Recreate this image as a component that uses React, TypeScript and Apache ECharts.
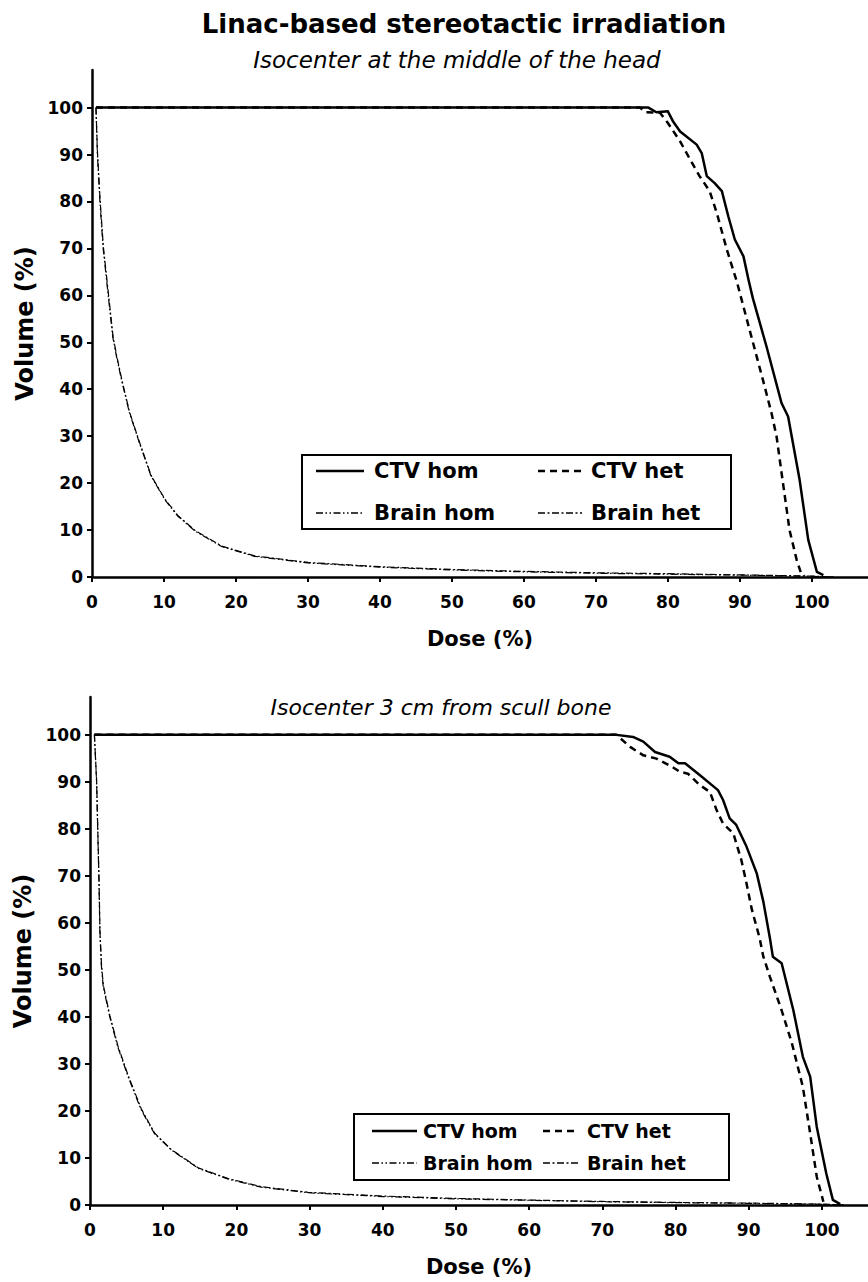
import React, { useEffect, useRef } from "react";
import * as echarts from "echarts";

const FONT = '"DejaVu Sans", sans-serif';

const doseTicks = [0, 10, 20, 30, 40, 50, 60, 70, 80, 90, 100];
const volumeTicks = [0, 10, 20, 30, 40, 50, 60, 70, 80, 90, 100];

const mainTitle = "Linac-based stereotactic irradiation";
const subTitleTop = "Isocenter at the middle of the head";
const subTitleBottom = "Isocenter 3 cm from scull bone";
const seriesNames = ["CTV hom", "CTV het", "Brain hom", "Brain het"];

// Top panel: isocenter at the middle of the head
const topCtvHom: [number, number][] = [
  [0.55, 100], [77.3, 100], [78.4, 99.0], [80.0, 99.2], [80.7, 97.1], [81.7, 94.9],
  [84.0, 92.1], [84.7, 90.3], [85.4, 85.4], [86.5, 83.9], [87.5, 82.2], [88.4, 76.8],
  [89.3, 71.9], [90.5, 68.3], [91.2, 63.3], [91.8, 59.4], [93.7, 49.1], [95.8, 37.0],
  [96.7, 34.2], [98.3, 20.7], [99.5, 7.9], [100.7, 1.1], [101.6, 0.4],
];
const topCtvHet: [number, number][] = [
  [0.55, 100], [76.1, 100], [77.0, 99.0], [78.9, 98.9], [80.0, 96.7], [81.7, 92.8],
  [83.1, 88.9], [84.4, 85.4], [85.8, 82.2], [86.8, 77.5], [88.2, 69.7], [89.6, 62.8],
  [91.6, 51.2], [93.2, 42.0], [94.4, 34.9], [95.1, 29.9], [95.8, 22.1], [96.9, 10.0],
  [97.9, 3.6], [98.5, 0.8], [99.0, 0.3],
];
const topBrainHom: [number, number][] = [
  [0.55, 100], [0.75, 90], [1.1, 80], [1.55, 70], [2.25, 60], [2.9, 51], [3.4, 47],
  [4.1, 42], [5.2, 35], [6.6, 28.5], [8.2, 21.5], [10.1, 16.5], [11.9, 13], [14.3, 9.8],
  [18, 6.5], [22.6, 4.4], [30, 3.0], [40, 2.1], [50, 1.5], [60, 1.1], [70, 0.8],
  [80, 0.6], [90, 0.4], [100, 0.15], [103, 0],
];
const topBrainHet: [number, number][] = [
  [0.55, 100], [0.76, 90.5], [1.12, 80.5], [1.57, 70.5], [2.27, 60.5], [2.92, 51.3], [3.42, 47.2],
  [4.12, 42.2], [5.22, 35.1], [6.62, 28.6], [8.22, 21.6], [10.12, 16.6], [11.92, 13.1], [14.32, 9.9],
  [18, 6.6], [22.6, 4.5], [30, 3.1], [40, 2.2], [50, 1.6], [60, 1.2], [70, 0.9],
  [80, 0.7], [90, 0.45], [100, 0.2], [103, 0],
];

// Bottom panel: isocenter 3 cm from scull bone
const botCtvHom: [number, number][] = [
  [0.6, 100], [71.7, 100], [74.2, 99.5], [75.6, 98.5], [77.2, 96.3], [79.2, 95.3],
  [80.4, 93.9], [81.3, 93.9], [83.3, 91.4], [85.8, 88.2], [86.5, 86.1], [87.4, 82.2],
  [88.3, 80.8], [89.7, 76.2], [91.1, 70.5], [92.0, 64.5], [92.9, 56.7], [93.3, 52.8],
  [94.5, 51.4], [96.1, 41.4], [97.4, 31.5], [98.4, 27.3], [99.3, 16.6], [100.6, 6.7],
  [101.5, 1.1], [102.5, 0.2],
];
const botCtvHet: [number, number][] = [
  [0.6, 100], [71.9, 100], [73.8, 97.4], [75.6, 95.6], [77.4, 94.9], [79.5, 93.2],
  [80.6, 92.1], [81.7, 91.7], [83.3, 89.3], [84.7, 87.8], [85.6, 84.0], [86.5, 81.1],
  [87.9, 79.0], [89.0, 73.3], [89.7, 68.4], [90.4, 63.0], [91.5, 56.7], [92.0, 52.8],
  [92.9, 48.5], [94.5, 41.4], [95.9, 34.4], [97.4, 25.1], [98.4, 15.2], [99.3, 6.0],
  [100.2, 0.7],
];
const botBrainHom: [number, number][] = [
  [0.6, 100], [0.9, 90], [1.05, 80], [1.23, 68.5], [1.35, 58], [1.55, 51], [1.8, 46.5],
  [2.7, 40], [3.8, 33.6], [5.2, 27.3], [7.0, 20.2], [8.8, 15.2], [11.1, 11.7], [14.8, 7.8],
  [18.9, 5.5], [23.4, 3.8], [29.8, 2.6], [40, 1.8], [50, 1.3], [60, 1.0], [70, 0.7],
  [80, 0.5], [90, 0.35], [100, 0.15], [103, 0],
];
const botBrainHet: [number, number][] = [
  [0.6, 100], [0.91, 90], [1.06, 80], [1.24, 68.5], [1.36, 58.2], [1.57, 51.2], [1.82, 46.7],
  [2.72, 40.2], [3.82, 33.8], [5.22, 27.5], [7.02, 20.4], [8.82, 15.3], [11.1, 11.8], [14.8, 7.9],
  [18.9, 5.6], [23.4, 3.9], [29.8, 2.7], [40, 1.9], [50, 1.4], [60, 1.05], [70, 0.75],
  [80, 0.55], [90, 0.4], [100, 0.2], [103, 0],
];

const DASH_CTV_HET = [7, 5];
const DASH_BRAIN_HOM = [7, 2.5, 1.5, 2.5, 1.5, 2.5];
const DASH_BRAIN_HET = [7, 2.5, 2, 2.5];

function lineSeries(name: string, data: [number, number][], idx: number, width: number, dash: any) {
  return {
    type: "line",
    name,
    data,
    xAxisIndex: idx,
    yAxisIndex: idx,
    symbol: "none",
    smooth: false,
    lineStyle: { color: "#000", width, type: dash, join: "round", cap: "butt" },
    z: 3,
  };
}

function xAxisCfg(gridIndex: number, max: number) {
  return {
    type: "value",
    gridIndex,
    min: 0,
    max,
    axisLine: { show: true, onZero: false, lineStyle: { color: "#000", width: 2.5 } },
    axisTick: { show: true, customValues: doseTicks, length: 5, lineStyle: { color: "#000", width: 2 } },
    axisLabel: {
      customValues: doseTicks,
      margin: 16,
      fontSize: 17,
      fontWeight: "bold",
      fontFamily: FONT,
      color: "#000",
    },
    splitLine: { show: false },
    name: "Dose (%)",
    nameLocation: "middle",
    nameGap: 51,
    nameTextStyle: { fontSize: 21, fontWeight: "bold", fontFamily: FONT, color: "#000" },
  };
}

function yAxisCfg(gridIndex: number) {
  return {
    type: "value",
    gridIndex,
    min: 0,
    max: 108,
    axisLine: { show: true, onZero: false, lineStyle: { color: "#000", width: 2.5 } },
    axisTick: { show: true, customValues: volumeTicks, length: 5, lineStyle: { color: "#000", width: 2 } },
    axisLabel: {
      customValues: volumeTicks,
      margin: 9,
      fontSize: 17,
      fontWeight: "bold",
      fontFamily: FONT,
      color: "#000",
    },
    splitLine: { show: false },
    name: "Volume (%)",
    nameLocation: "middle",
    nameGap: 49,
    nameTextStyle: { fontSize: 24, fontWeight: "bold", fontFamily: FONT, color: "#000" },
  };
}

function legendBox(
  box: { x: number; y: number; w: number; h: number },
  rows: number[],
  col1: [number, number, number],
  col2: [number, number, number],
  fontSize: number
) {
  const els: any[] = [
    {
      type: "rect",
      shape: { x: box.x, y: box.y, width: box.w, height: box.h },
      style: { fill: "#fff", stroke: "#000", lineWidth: 2 },
      z: 100,
    },
  ];
  const entries = [
    { name: seriesNames[0], col: col1, row: rows[0], w: 2.5, dash: null },
    { name: seriesNames[1], col: col2, row: rows[0], w: 2.5, dash: DASH_CTV_HET },
    { name: seriesNames[2], col: col1, row: rows[1], w: 1.4, dash: DASH_BRAIN_HOM },
    { name: seriesNames[3], col: col2, row: rows[1], w: 1.4, dash: DASH_BRAIN_HET },
  ];
  entries.forEach((e) => {
    els.push({
      type: "line",
      shape: { x1: e.col[0], y1: e.row, x2: e.col[1], y2: e.row },
      style: { stroke: "#000", lineWidth: e.w, lineDash: e.dash || undefined },
      z: 101,
    });
    els.push({
      type: "text",
      x: e.col[2],
      y: e.row,
      style: {
        text: e.name,
        fontSize,
        fontWeight: "bold",
        fontFamily: FONT,
        fill: "#000",
        verticalAlign: "middle",
        align: "left",
      },
      z: 101,
    });
  });
  return els;
}

export default function App() {
  const ref = useRef<HTMLDivElement>(null);
  useEffect(() => {
    if (!ref.current) return;
    const chart = echarts.init(ref.current, null, { renderer: "svg" });
    const graphic: any[] = [
      {
        type: "text",
        x: 464,
        y: 24,
        style: {
          text: mainTitle,
          fontSize: 26,
          fontWeight: "bold",
          fontFamily: FONT,
          fill: "#000",
          align: "center",
          verticalAlign: "middle",
        },
      },
      {
        type: "text",
        x: 457,
        y: 60,
        style: {
          text: subTitleTop,
          fontSize: 23,
          fontStyle: "italic",
          fontFamily: FONT,
          fill: "#000",
          align: "center",
          verticalAlign: "middle",
        },
      },
      {
        type: "text",
        x: 441,
        y: 707,
        style: {
          text: subTitleBottom,
          fontSize: 22,
          fontStyle: "italic",
          fontFamily: FONT,
          fill: "#000",
          align: "center",
          verticalAlign: "middle",
        },
      },
      ...legendBox({ x: 302, y: 455, w: 429, h: 74 }, [471, 513], [316, 364, 374], [538, 582, 591], 21),
      ...legendBox({ x: 354, y: 1114, w: 375, h: 66 }, [1131, 1163], [372, 417, 423], [543, 578, 587], 19),
    ];
    chart.setOption({
      animation: false,
      backgroundColor: "#fff",
      grid: [
        { left: 92, top: 70, width: 776, height: 507 },
        { left: 90, top: 697, width: 778, height: 508 },
      ],
      xAxis: [xAxisCfg(0, 107.8), xAxisCfg(1, 106.3)],
      yAxis: [yAxisCfg(0), yAxisCfg(1)],
      series: [
        lineSeries(seriesNames[2], topBrainHom, 0, 1.2, DASH_BRAIN_HOM),
        lineSeries(seriesNames[3], topBrainHet, 0, 1.2, DASH_BRAIN_HET),
        lineSeries(seriesNames[1], topCtvHet, 0, 2.5, DASH_CTV_HET),
        lineSeries(seriesNames[0], topCtvHom, 0, 2.5, "solid"),
        lineSeries(seriesNames[2], botBrainHom, 1, 1.2, DASH_BRAIN_HOM),
        lineSeries(seriesNames[3], botBrainHet, 1, 1.2, DASH_BRAIN_HET),
        lineSeries(seriesNames[1], botCtvHet, 1, 2.5, DASH_CTV_HET),
        lineSeries(seriesNames[0], botCtvHom, 1, 2.5, "solid"),
      ],
      graphic,
    });
    return () => chart.dispose();
  }, []);
  return (
    <div
      ref={ref}
      style={{ position: "absolute", left: 0, top: 0, width: 868, height: 1282, background: "#fff" }}
    />
  );
}
